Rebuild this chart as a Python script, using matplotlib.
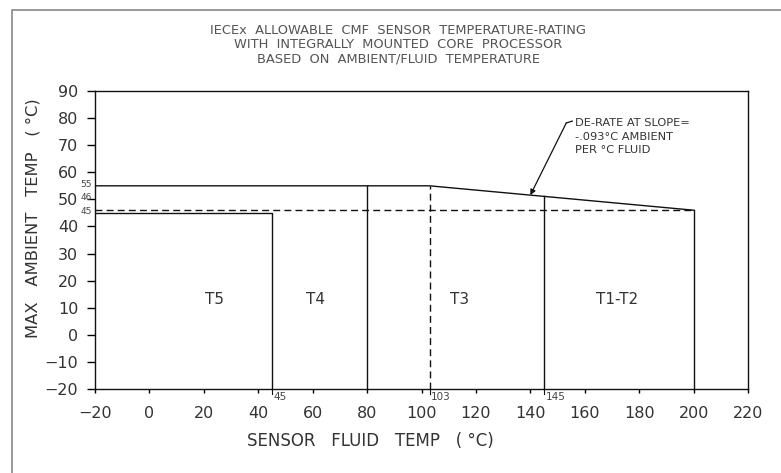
import matplotlib
matplotlib.use("Agg")
import matplotlib.pyplot as plt
from matplotlib.patches import Rectangle

# rating curve data (sensor fluid temp vs max ambient temp)
t5_limit = 45        # fluid temp limit for T5
t4_limit = 80
t3_start = 103       # de-rating begins here
t3_limit = 145
t12_limit = 200
amb_low = 45         # max ambient in T5
amb_high = 55        # max ambient before de-rating
amb_end = 46         # max ambient at 200 C fluid
slope = (amb_end - amb_high) / (t12_limit - t3_start)

x_ticks = list(range(-20, 221, 20))
y_ticks = list(range(-20, 91, 10))
x_marks = [45, 103, 145]
y_marks = [55, 46, 45]
zone_names = ["T5", "T4", "T3", "T1-T2"]
zone_x = [24, 61, 114, 172]
zone_y = 13

plt.rcParams['font.family'] = ['DejaVu Sans']

fig = plt.figure(figsize=(7.81, 4.73), dpi=100)
ax = fig.add_axes([0.1216, 0.1776, 0.8362, 0.630])

# outer drawing frame
fig.patches.append(Rectangle((12 / 781, -0.05), 1.0, 1 - 10 / 473 + 0.05,
                             transform=fig.transFigure, fill=False,
                             edgecolor="#888888", lw=1.2))

ax.set_xlim(-20, 220)
ax.set_ylim(-20, 90)
lc = "#111111"
lw = 1.0

def amb_at(x):
    return amb_high + slope * (x - t3_start)

# T5 zone
ax.plot([-20, t5_limit, t5_limit], [amb_low, amb_low, -20], color=lc, lw=lw)
# 55 C level and de-rate line
ax.plot([-20, t3_start, t12_limit], [amb_high, amb_high, amb_end], color=lc, lw=lw)
ax.plot([t4_limit, t4_limit], [-20, amb_high], color=lc, lw=lw)
ax.plot([t3_start, t3_start], [-20, amb_high], color=lc, lw=lw, ls=(0, (5, 3)))
ax.plot([t3_limit, t3_limit], [-20, amb_at(t3_limit)], color=lc, lw=lw)
ax.plot([t12_limit, t12_limit], [-20, amb_end], color=lc, lw=lw)
ax.plot([-20, t12_limit], [amb_end, amb_end], color=lc, lw=lw, ls=(0, (5, 3)))

for name, zx in zip(zone_names, zone_x):
    ax.text(zx, zone_y, name, ha="center", va="center", fontsize=11, color="#333333")

# de-rate callout
ax.text(156.4, 80, "DE-RATE AT SLOPE=\n-.093°C AMBIENT\nPER °C FLUID",
        ha="left", va="top", fontsize=8.2, color="#333333", linespacing=1.45)
ax.plot([153.2, 155.4], [78.2, 78.9], color=lc, lw=0.9)
ax.annotate("", xy=(140, amb_at(140)), xytext=(153.2, 78.2),
            arrowprops=dict(arrowstyle="-|>", color=lc, lw=0.9,
                            shrinkA=0, shrinkB=0, mutation_scale=8))

ax.set_xticks(x_ticks)
ax.set_yticks(y_ticks)
ax.tick_params(direction="out", length=6, width=1, labelsize=11.5,
               labelcolor="#333333", pad=6)
ax.tick_params(axis="x", length=3, pad=9)

for xm in x_marks:
    ax.text(xm + 0.6, -21.0, str(xm), ha="left", va="top", fontsize=7.5, color="#444444")
    ax.plot([xm, xm], [-20, -21.8], color=lc, lw=0.8, clip_on=False)
for ym, dy in zip(y_marks, [0.5, 4.6, 0.6]):
    ax.text(-21.2, ym + dy, str(ym), ha="right", va="center", fontsize=6.5, color="#444444")

for s in ax.spines.values():
    s.set_color(lc)
    s.set_linewidth(1.0)

ax.set_xlabel("SENSOR   FLUID   TEMP   ( °C)", fontsize=12, color="#333333")
ax.xaxis.set_label_coords(0.421, -0.145)
ax.set_ylabel("MAX   AMBIENT   TEMP   ( °C)", fontsize=11.8, color="#333333")
ax.yaxis.set_label_coords(-0.084, 0.574)

fig.text(0.51, 0.905, "IECEx  ALLOWABLE  CMF  SENSOR  TEMPERATURE-RATING\n"
         "WITH  INTEGRALLY  MOUNTED  CORE  PROCESSOR\n"
         "BASED  ON  AMBIENT/FLUID  TEMPERATURE",
         ha="center", va="center", fontsize=9.4, color="#555555", linespacing=1.12)

fig.savefig("out.png", dpi=100)
